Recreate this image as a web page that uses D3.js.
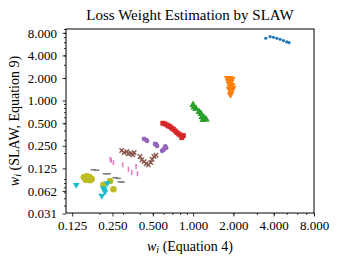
<!DOCTYPE html>
<html><head><meta charset="utf-8">
<script src="https://cdn.jsdelivr.net/npm/d3@7"></script>
<style>
body{margin:0;background:#fff;}
text{font-family:"Liberation Serif","Times New Roman",serif;fill:#000;}
</style></head>
<body><svg id="c" width="337" height="263"></svg>
<script>
// ---- data ----
const xTicks = [0.125, 0.25, 0.5, 1, 2, 4, 8];
const yTicks = [0.03125, 0.0625, 0.125, 0.25, 0.5, 1, 2, 4, 8];
const blueX = [3.49, 3.76, 3.98, 4.22, 4.47, 4.73, 5.01, 5.21];
const blueY = [6.78, 7.12, 6.99, 6.78, 6.57, 6.30, 6.05, 5.92];
const orangeX = [1.80, 1.89, 1.96, 1.83, 1.92, 1.86, 1.96, 1.89, 1.99, 1.86, 1.92, 1.96, 1.91, 1.90];
const orangeY = [2.01, 2.01, 1.95, 1.83, 1.77, 1.67, 1.62, 1.52, 1.48, 1.43, 1.35, 1.39, 1.23, 1.19];
const greenX = [1.0, 1.017, 1.053, 1.109, 1.147, 1.167, 1.208, 1.25, 1.188];
const greenY = [0.877, 0.812, 0.775, 0.707, 0.665, 0.607, 0.588, 0.562, 0.553];
const redX = [0.594, 0.615, 0.636, 0.655, 0.673, 0.692, 0.712, 0.735, 0.756, 0.78, 0.80, 0.846, 0.823];
const redY = [0.50, 0.49, 0.475, 0.46, 0.45, 0.43, 0.416, 0.395, 0.375, 0.36, 0.349, 0.342, 0.321];
const purpleX = [0.43, 0.445, 0.453, 0.52, 0.53, 0.538, 0.587, 0.60, 0.607, 0.629, 0.62];
const purpleY = [0.309, 0.30, 0.29, 0.265, 0.26, 0.249, 0.214, 0.22, 0.228, 0.234, 0.245];
const brownX = [0.293, 0.305, 0.32, 0.329, 0.343, 0.355, 0.363, 0.402, 0.414, 0.431, 0.446, 0.463, 0.483, 0.494, 0.511, 0.529];
const brownY = [0.216, 0.203, 0.209, 0.195, 0.199, 0.189, 0.203, 0.18, 0.162, 0.154, 0.144, 0.139, 0.149, 0.166, 0.18, 0.187];
const pinkX = [0.24, 0.245, 0.254, 0.298, 0.329, 0.348, 0.375, 0.384];
const pinkY = [0.166, 0.16, 0.149, 0.139, 0.122, 0.11, 0.132, 0.106];
const grayX = [0.18, 0.19, 0.222, 0.232, 0.262, 0.275, 0.285, 0.295];
const grayY = [0.12, 0.118, 0.106, 0.106, 0.094, 0.092, 0.083, 0.082];
const oliveX = [0.153, 0.16, 0.168, 0.175, 0.158, 0.17, 0.165, 0.214, 0.24, 0.254];
const oliveY = [0.095, 0.098, 0.096, 0.09, 0.088, 0.087, 0.092, 0.0753, 0.085, 0.066];
const cyanX = [0.134, 0.208, 0.214, 0.22, 0.229, 0.217];
const cyanY = [0.0753, 0.054, 0.068, 0.0612, 0.0794, 0.065];

const series = [
  {x: blueX, y: blueY, color: "#1f77b4", m: "dot"},
  {x: orangeX, y: orangeY, color: "#ff7f0e", m: "tdown"},
  {x: greenX, y: greenY, color: "#2ca02c", m: "tup"},
  {x: redX, y: redY, color: "#d62728", m: "square"},
  {x: purpleX, y: purpleY, color: "#9467bd", m: "pent"},
  {x: brownX, y: brownY, color: "#8c564b", m: "x"},
  {x: pinkX, y: pinkY, color: "#e377c2", m: "vline"},
  {x: grayX, y: grayY, color: "#7f7f7f", m: "hline"},
  {x: oliveX, y: oliveY, color: "#bcbd22", m: "circle"},
  {x: cyanX, y: cyanY, color: "#17becf", m: "tdown"}
];

// ---- layout ----
const L = 66, R = 314, T = 29, B = 213;
const svg = d3.select("#c");
const x = d3.scaleLog().base(2).domain([0.1124, 8]).range([L, R]);
const y = d3.scaleLog().base(2).domain([0.0318, 9.0]).range([B, T]);

function minors(dom) {
  const out = [];
  for (let k = -3; k <= 1; k++) for (let d = 2; d <= 9; d++) {
    const v = d * Math.pow(10, k);
    if (v >= dom[0] && v <= dom[1]) out.push(v);
  }
  return out;
}

const fmt = d3.format(".3f");
function fmtTick(v){ return fmt(Math.floor(v*1000)/1000); }

svg.append("g").attr("transform", `translate(0,${B})`)
  .call(d3.axisBottom(x).tickValues(minors(x.domain())).tickSize(2).tickFormat(""));
svg.append("g").attr("transform", `translate(0,${B})`)
  .call(d3.axisBottom(x).tickValues(xTicks).tickSize(3.5).tickPadding(4).tickFormat(fmtTick));
svg.append("g").attr("transform", `translate(${L},0)`)
  .call(d3.axisLeft(y).tickValues(minors(y.domain())).tickSize(2).tickFormat(""));
svg.append("g").attr("transform", `translate(${L},0)`)
  .call(d3.axisLeft(y).tickValues(yTicks).tickSize(3.5).tickPadding(5.5).tickFormat(fmtTick));
svg.selectAll(".domain").remove();
svg.selectAll(".tick line").attr("stroke", "#000").attr("stroke-width", 0.8);
svg.selectAll(".tick text").style("font-size", "13px").attr("fill", "#000");

// frame
svg.append("rect").attr("x", L).attr("y", T).attr("width", R - L).attr("height", B - T)
  .attr("fill", "none").attr("stroke", "#000").attr("stroke-width", 1);

// markers
const plot = svg.append("g");
series.forEach(s => {
  s.x.forEach((xv, i) => {
    const px = x(xv), py = y(s.y[i]);
    const g = plot.append("g").attr("transform", `translate(${px},${py})`);
    if (s.m === "dot") g.append("circle").attr("r", 1.6).attr("fill", s.color);
    else if (s.m === "circle") g.append("circle").attr("r", 3.3).attr("fill", s.color);
    else if (s.m === "tdown") g.append("path").attr("d", d3.symbol(d3.symbolTriangle, 20)()).attr("transform", "rotate(180)").attr("fill", s.color);
    else if (s.m === "tup") g.append("path").attr("d", d3.symbol(d3.symbolTriangle, 24)()).attr("fill", s.color);
    else if (s.m === "square") g.append("path").attr("d", d3.symbol(d3.symbolSquare, 24)()).attr("fill", s.color);
    else if (s.m === "pent") g.append("path").attr("d", d3.symbol(d3.symbolCircle, 18)()).attr("fill", s.color);
    else if (s.m === "x") g.append("path").attr("d", "M-2.2,-2.2L2.2,2.2M-2.2,2.2L2.2,-2.2").attr("stroke", s.color).attr("stroke-width", 1.4);
    else if (s.m === "vline") g.append("path").attr("d", "M0,-2.5L0,2.5").attr("stroke", s.color).attr("stroke-width", 1.5);
    else if (s.m === "hline") g.append("path").attr("d", "M-2.8,0L2.8,0").attr("stroke", s.color).attr("stroke-width", 1.5);
  });
});

// title and labels
svg.append("text").attr("x", (L + R) / 2).attr("y", 19.5).attr("text-anchor", "middle")
  .style("font-size", "15px").text("Loss Weight Estimation by SLAW");
const xl = svg.append("text").attr("x", (L + R) / 2).attr("y", 251).attr("text-anchor", "middle").style("font-size", "14px");
xl.append("tspan").attr("font-style", "italic").text("w");
xl.append("tspan").attr("font-style", "italic").style("font-size", "10px").attr("dy", 2).text("i");
xl.append("tspan").attr("dy", -2).text(" (Equation 4)");
const yl = svg.append("text").attr("transform", `translate(19,${(T + B) / 2}) rotate(-90)`).attr("text-anchor", "middle").style("font-size", "14px");
yl.append("tspan").attr("font-style", "italic").text("w");
yl.append("tspan").attr("font-style", "italic").style("font-size", "10px").attr("dy", 2).text("i");
yl.append("tspan").attr("dy", -2).text(" (SLAW, Equation 9)");
</script></body></html>
